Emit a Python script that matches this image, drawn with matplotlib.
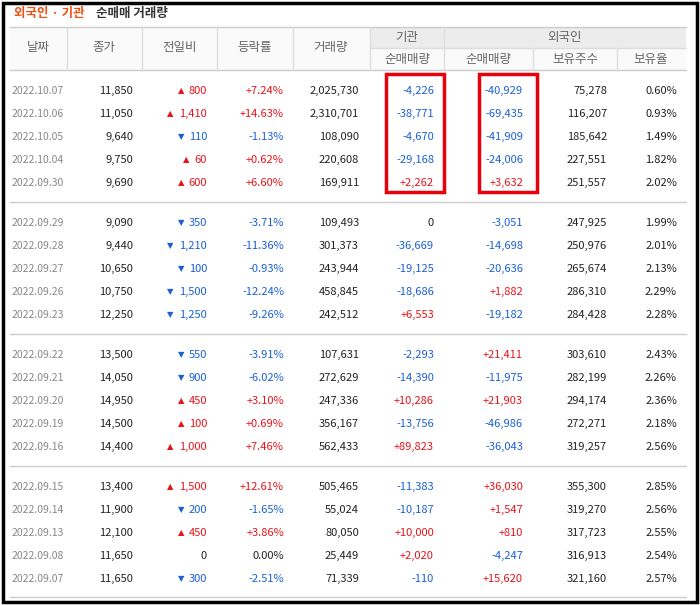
import matplotlib.pyplot as plt
from matplotlib.patches import Rectangle

plt.rcParams["font.family"] = "Noto Sans CJK KR"

dates = ["2022.10.07", "2022.10.06", "2022.10.05", "2022.10.04", "2022.09.30",
         "2022.09.29", "2022.09.28", "2022.09.27", "2022.09.26", "2022.09.23",
         "2022.09.22", "2022.09.21", "2022.09.20", "2022.09.19", "2022.09.16",
         "2022.09.15", "2022.09.14", "2022.09.13", "2022.09.08", "2022.09.07"]
close = [11850, 11050, 9640, 9750, 9690, 9090, 9440, 10650, 10750, 12250,
         13500, 14050, 14950, 14500, 14400, 13400, 11900, 12100, 11650, 11650]
change = [800, 1410, -110, 60, 600, -350, -1210, -100, -1500, -1250,
          -550, -900, 450, 100, 1000, 1500, -200, 450, 0, -300]
rate = [7.24, 14.63, -1.13, 0.62, 6.60, -3.71, -11.36, -0.93, -12.24, -9.26,
        -3.91, -6.02, 3.10, 0.69, 7.46, 12.61, -1.65, 3.86, 0.00, -2.51]
volume = [2025730, 2310701, 108090, 220608, 169911, 109493, 301373, 243944, 458845, 242512,
          107631, 272629, 247336, 356167, 562433, 505465, 55024, 80050, 25449, 71339]
inst_net = [-4226, -38771, -4670, -29168, 2262, 0, -36669, -19125, -18686, 6553,
            -2293, -14390, 10286, -13756, 89823, -11383, -10187, 10000, 2020, -110]
foreign_net = [-40929, -69435, -41909, -24006, 3632, -3051, -14698, -20636, 1882, -19182,
               21411, -11975, 21903, -46986, -36043, 36030, 1547, 810, -4247, 15620]
foreign_hold = [75278, 116207, 185642, 227551, 251557, 247925, 250976, 265674, 286310, 284428,
                303610, 282199, 294174, 272271, 319257, 355300, 319270, 317723, 316913, 321160]
foreign_ratio = [0.60, 0.93, 1.49, 1.82, 2.02, 1.99, 2.01, 2.13, 2.29, 2.28,
                 2.43, 2.26, 2.36, 2.18, 2.56, 2.85, 2.56, 2.55, 2.54, 2.57]

RED = "#e8131a"
BLUE = "#1a5fd6"
BLACK = "#222222"
GRAY = "#666666"


def col(v):
    return RED if v > 0 else (BLUE if v < 0 else BLACK)


def signed(v):
    return f"+{v:,}" if v > 0 else f"{v:,}"


fig = plt.figure(figsize=(7, 6.05), dpi=100)
ax = fig.add_axes([0, 0, 1, 1])
ax.set_xlim(0, 700)
ax.set_ylim(605, 0)
ax.axis("off")

# outer border
ax.add_patch(Rectangle((3, 3), 694, 599, fill=False, lw=2.5, ec="black"))

# title
ax.text(14, 14, "외국인 · 기관", color="#f04e0f", fontsize=9, fontweight="bold", va="center")
ax.text(96, 14, "순매매 거래량", color="#333333", fontsize=9, fontweight="bold", va="center")

# header
ax.add_patch(Rectangle((10, 27), 676, 43, fc="#fafafa", ec="none"))
ax.add_patch(Rectangle((370, 27), 316, 21, fc="#ececec", ec="none"))
ax.plot([10, 686], [27, 27], color="#cccccc", lw=1)
ax.plot([10, 686], [70, 70], color="#cccccc", lw=1)
ax.plot([370, 686], [48, 48], color="#dddddd", lw=1)
for x in [67, 142, 217, 293, 370, 533, 617]:
    ax.plot([x, x], [27 if x <= 370 else 48, 70], color="#dddddd", lw=1)
ax.plot([444, 444], [27, 70], color="#dddddd", lw=1)

hs = dict(color=GRAY, fontsize=9, ha="center", va="center")
for x, t in zip([38, 104, 180, 255, 331], ["날짜", "종가", "전일비", "등락률", "거래량"]):
    ax.text(x, 48, t, **hs)
ax.text(407, 37, "기관", **hs)
ax.text(565, 37, "외국인", **hs)
for x, t in zip([407, 488, 575, 651], ["순매매량", "순매매량", "보유주수", "보유율"]):
    ax.text(x, 59, t, **hs)

fs = 8
for i in range(len(dates)):
    g = i // 5
    y = 91 + g * 132 + (i % 5) * 23
    ax.text(12, y, dates[i], color="#888888", fontsize=7.5, va="center")
    ax.text(133, y, f"{close[i]:,}", color=BLACK, fontsize=fs, ha="right", va="center")
    c = change[i]
    ax.text(207, y, f"{abs(c):,}", color=col(c), fontsize=fs, ha="right", va="center")
    if c != 0:
        nchar = len(f"{abs(c):,}")
        ax.text(207 - nchar * 5.6 - 6, y, "▲" if c > 0 else "▼", color=col(c),
                fontsize=6, ha="right", va="center", family="DejaVu Sans")
    r = rate[i]
    rt = f"+{r:.2f}%" if r > 0 else f"{r:.2f}%"
    ax.text(284, y, rt, color=col(r), fontsize=fs, ha="right", va="center")
    ax.text(359, y, f"{volume[i]:,}", color=BLACK, fontsize=fs, ha="right", va="center")
    ax.text(434, y, signed(inst_net[i]), color=col(inst_net[i]), fontsize=fs, ha="right", va="center")
    ax.text(523, y, signed(foreign_net[i]), color=col(foreign_net[i]), fontsize=fs, ha="right", va="center")
    ax.text(607, y, f"{foreign_hold[i]:,}", color=BLACK, fontsize=fs, ha="right", va="center")
    ax.text(677, y, f"{foreign_ratio[i]:.2f}%", color=BLACK, fontsize=fs, ha="right", va="center")

for y in [202, 334, 466]:
    ax.plot([10, 686], [y, y], color="#cccccc", lw=1)
ax.plot([10, 686], [597, 597], color="#cccccc", lw=1)

# highlight boxes
ax.add_patch(Rectangle((386, 74), 58, 118, fill=False, ec="#e8000b", lw=2.5))
ax.add_patch(Rectangle((479, 74), 58, 118, fill=False, ec="#e8000b", lw=2.5))

fig.savefig("out.png", dpi=100)
